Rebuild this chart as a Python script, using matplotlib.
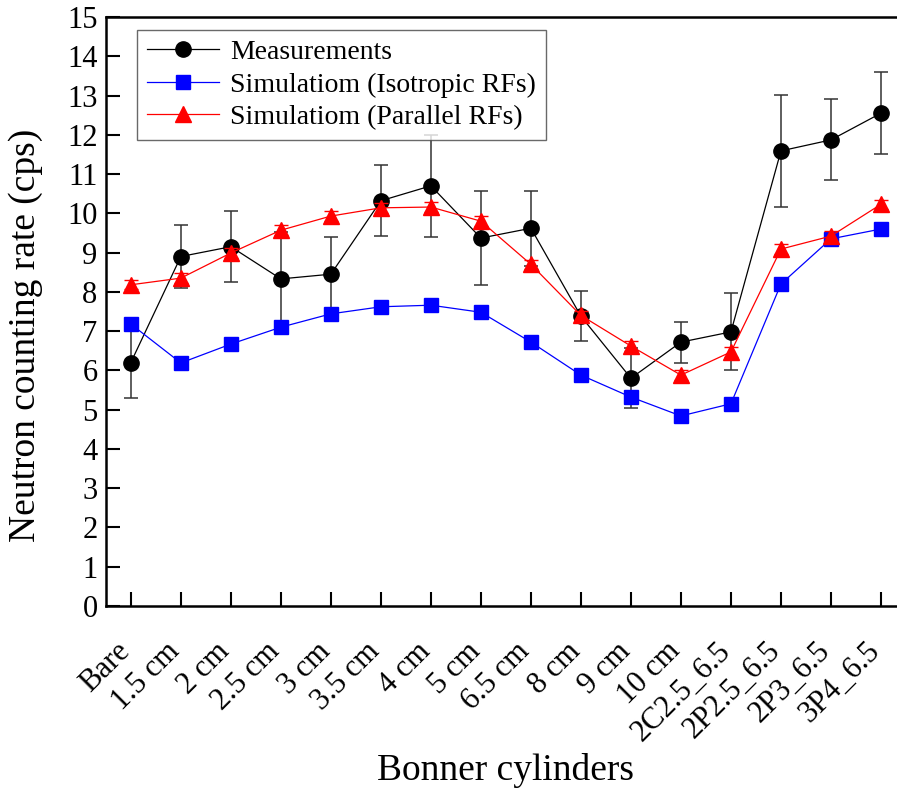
import numpy as np
import matplotlib
matplotlib.use("Agg")
import matplotlib.pyplot as plt
import matplotlib.transforms as mtransforms

# data
cylinders = ['Bare', '1.5 cm', '2 cm', '2.5 cm', '3 cm', '3.5 cm', '4 cm', '5 cm',
             '6.5 cm', '8 cm', '9 cm', '10 cm', '2C2.5_6.5', '2P2.5_6.5', '2P3_6.5', '3P4_6.5']
measured = [6.2, 8.9, 9.15, 8.33, 8.45, 10.32, 10.7, 9.37,
            9.62, 7.38, 5.8, 6.72, 6.98, 11.59, 11.87, 12.55]
measured_err = [0.9, 0.8, 0.9, 1.2, 0.95, 0.9, 1.3, 1.2,
                0.95, 0.63, 0.76, 0.52, 0.98, 1.42, 1.03, 1.05]
sim_isotropic = [7.18, 6.19, 6.67, 7.1, 7.44, 7.62, 7.66, 7.48,
                 6.72, 5.88, 5.32, 4.84, 5.15, 8.2, 9.35, 9.6]
sim_parallel = [8.18, 8.35, 8.99, 9.57, 9.93, 10.14, 10.16, 9.8,
                8.7, 7.4, 6.62, 5.88, 6.47, 9.09, 9.42, 10.23]
sim_parallel_err = [0.12] * 16

plt.rcParams['font.family'] = ['Liberation Serif', 'DejaVu Serif']

fig = plt.figure(figsize=(8.97, 7.94), dpi=100)
# axes runs a bit past the right edge of the figure, as in the original
ax = fig.add_axes([0.118, 0.2368, 0.892, 0.7418])

x = np.arange(len(cylinders))

h_meas = ax.errorbar(x, measured, yerr=measured_err, color='black', ecolor='#333333',
                     elinewidth=1.1, capsize=5, capthick=1.1, lw=0.9, marker='o',
                     markersize=11, zorder=2)
h_iso, = ax.plot(x, sim_isotropic, color='#0000ff', lw=0.9, marker='s', markersize=10,
                 zorder=3)
h_par = ax.errorbar(x, sim_parallel, yerr=sim_parallel_err, color='#ff0000', ecolor='#ff0000',
                    elinewidth=1.0, capsize=5, capthick=1.0, lw=0.9, marker='^',
                    markersize=12, zorder=4)

ax.set_xlim(-0.5, 15.5)
ax.set_ylim(0, 15)
ax.set_yticks(np.arange(0, 16, 1))
ax.set_xticks(x)
ax.set_xticklabels(cylinders, rotation=45, ha='right', va='top')
ax.tick_params(direction='in', length=10, width=1.5, labelsize=22, pad=6)
ax.tick_params(axis='x', pad=22)
# nudge the slanted labels a little to the right
shift = mtransforms.ScaledTranslation(0.05, 0, fig.dpi_scale_trans)
for lab in ax.get_xticklabels():
    lab.set_transform(lab.get_transform() + shift)
for side in ['left', 'bottom', 'top']:
    ax.spines[side].set_linewidth(1.8)
ax.spines['right'].set_visible(False)

ax.set_ylabel('Neutron counting rate (cps)', fontsize=27)
ax.yaxis.set_label_coords(-0.078, 0.46)
ax.set_xlabel('Bonner cylinders', fontsize=27)
ax.xaxis.set_label_coords(0.5, -0.25)

# legend shows line + marker only, no error bars
leg = ax.legend([h_meas[0], h_iso, h_par[0]],
                ['Measurements', 'Simulatiom (Isotropic RFs)', 'Simulatiom (Parallel RFs)'],
                loc='upper left', bbox_to_anchor=(0.039, 0.978), borderaxespad=0,
                fontsize=20, frameon=True, fancybox=False, edgecolor='#444444',
                handlelength=2.6, handletextpad=0.4, borderpad=0.35, labelspacing=0.25)
leg.get_frame().set_linewidth(1.0)

fig.savefig('out.png', dpi=100)
